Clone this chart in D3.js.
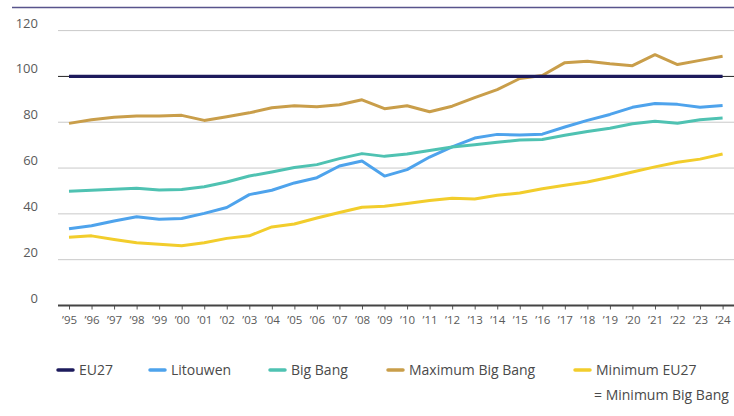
<!DOCTYPE html>
<html>
<head>
<meta charset="utf-8">
<script src="https://cdn.jsdelivr.net/npm/d3@7"></script>
<style>
  body { margin: 0; background: #fff; }
  svg { display: block; font-family: 'Open Sans', sans-serif; }
</style>
</head>
<body>
<svg id="chart" width="734" height="416"></svg>
<script>
// data
var years = [1995, 1996, 1997, 1998, 1999, 2000, 2001, 2002, 2003, 2004,
             2005, 2006, 2007, 2008, 2009, 2010, 2011, 2012, 2013, 2014,
             2015, 2016, 2017, 2018, 2019, 2020, 2021, 2022, 2023, 2024];
var eu27 = years.map(function() { return 100; });
var litouwen = [33.5, 34.8, 36.9, 38.7, 37.7, 38.0, 40.2, 42.8, 48.4, 50.3,
                53.5, 55.8, 60.9, 63.1, 56.5, 59.3, 64.8, 69.2, 73.1, 74.7,
                74.4, 74.8, 77.9, 80.8, 83.4, 86.5, 88.2, 87.8, 86.5, 87.3];
var bigBang = [49.9, 50.3, 50.7, 51.2, 50.4, 50.6, 51.8, 53.9, 56.5, 58.3,
               60.2, 61.5, 64.1, 66.3, 65.1, 66.1, 67.7, 69.2, 70.2, 71.3,
               72.2, 72.5, 74.3, 76.0, 77.4, 79.3, 80.4, 79.6, 81.1, 81.8];
var maxBigBang = [79.5, 81.1, 82.2, 82.7, 82.7, 83.0, 80.8, 82.4, 84.1, 86.3,
                  87.2, 86.8, 87.6, 89.8, 85.9, 87.2, 84.6, 87.0, 90.7, 94.2,
                  99.1, 100.4, 106.0, 106.6, 105.5, 104.7, 109.5, 105.2, 107.0, 108.8];
var minEU27 = [29.8, 30.4, 28.8, 27.4, 26.7, 26.1, 27.4, 29.3, 30.4, 34.3,
               35.6, 38.2, 40.6, 42.9, 43.3, 44.5, 45.8, 46.8, 46.5, 48.1,
               49.1, 51.0, 52.5, 53.9, 56.0, 58.3, 60.5, 62.5, 63.9, 66.1];
var yTicks = [0, 20, 40, 60, 80, 100, 120];

var series = [
    {name: 'EU27', values: eu27, color: '#1d1b5c', width: 3.2},
    {name: 'Litouwen', values: litouwen, color: '#4ea3ec', width: 3},
    {name: 'Big Bang', values: bigBang, color: '#4fc2b2', width: 3},
    {name: 'Maximum Big Bang', values: maxBigBang, color: '#c99e4a', width: 3},
    {name: 'Minimum EU27', values: minEU27, color: '#f2cd2c', width: 3}
];

var svg = d3.select('#chart');

var x = d3.scaleLinear().domain([1995, 2024]).range([69, 722.6]);
var y = d3.scaleLinear().domain([0, 120]).range([305.5, 30.6]);

var gridLeft = 58, gridRight = 734;

// top rule
svg.append('line')
    .attr('x1', 12).attr('x2', 734)
    .attr('y1', 7.5).attr('y2', 7.5)
    .attr('stroke', '#58548c')
    .attr('stroke-width', 1.5);

// gridlines
svg.append('g').selectAll('line.grid')
    .data(yTicks.filter(function(d) { return d > 0; }))
  .enter().append('line')
    .attr('class', 'grid')
    .attr('x1', gridLeft).attr('x2', gridRight)
    .attr('y1', function(d) { return y(d); })
    .attr('y2', function(d) { return y(d); })
    .attr('stroke', function(d) { return d === 100 ? '#222' : '#c9c9c9'; })
    .attr('stroke-width', 1);

// y labels
svg.append('g').selectAll('text.ylab')
    .data(yTicks)
  .enter().append('text')
    .attr('class', 'ylab')
    .attr('x', 38)
    .attr('y', function(d) { return y(d) - 3; })
    .attr('text-anchor', 'end')
    .attr('font-size', 13)
    .attr('fill', '#5a5a5a')
    .text(function(d) { return d; });

// x axis
var xAxis = d3.axisBottom(x)
    .tickValues(years)
    .tickSize(4)
    .tickPadding(6)
    .tickFormat(function(d) { return '\u2019' + String(d).slice(2); });

var gx = svg.append('g')
    .attr('transform', 'translate(0,' + y(0) + ')')
    .call(xAxis);
gx.select('.domain').remove();
gx.selectAll('.tick line').attr('stroke', '#555');
gx.selectAll('.tick text')
    .attr('font-family', "'Open Sans', sans-serif")
    .attr('font-size', 11.5)
    .attr('fill', '#5a5a5a');
svg.append('line')
    .attr('x1', gridLeft).attr('x2', gridRight)
    .attr('y1', y(0)).attr('y2', y(0))
    .attr('stroke', '#444')
    .attr('stroke-width', 2);

// lines, EU27 drawn last so it stays on top of the 100 rule
var line = d3.line()
    .x(function(d, i) { return x(years[i]); })
    .y(function(d) { return y(d); });

svg.append('g').selectAll('path.series')
    .data(series.slice(1).concat([series[0]]))
  .enter().append('path')
    .attr('class', 'series')
    .attr('fill', 'none')
    .attr('stroke', function(d) { return d.color; })
    .attr('stroke-width', function(d) { return d.width; })
    .attr('stroke-linejoin', 'round')
    .attr('d', function(d) { return line(d.values); });

// legend
var legendX = [58, 150, 270, 388, 575];
var legend = svg.append('g').selectAll('g.legend')
    .data(series)
  .enter().append('g')
    .attr('class', 'legend')
    .attr('transform', function(d, i) { return 'translate(' + legendX[i] + ',370)'; });

legend.append('line')
    .attr('x1', 0).attr('x2', 15)
    .attr('stroke', function(d) { return d.color; })
    .attr('stroke-width', 3.5)
    .attr('stroke-linecap', 'round');

legend.append('text')
    .attr('x', 21)
    .attr('y', 5)
    .attr('font-size', 14)
    .attr('fill', '#4a4a4a')
    .text(function(d) { return d.name; });

svg.append('text')
    .attr('x', 594)
    .attr('y', 400)
    .attr('font-size', 14)
    .attr('fill', '#4a4a4a')
    .text('= Minimum Big Bang');
</script>
</body>
</html>
